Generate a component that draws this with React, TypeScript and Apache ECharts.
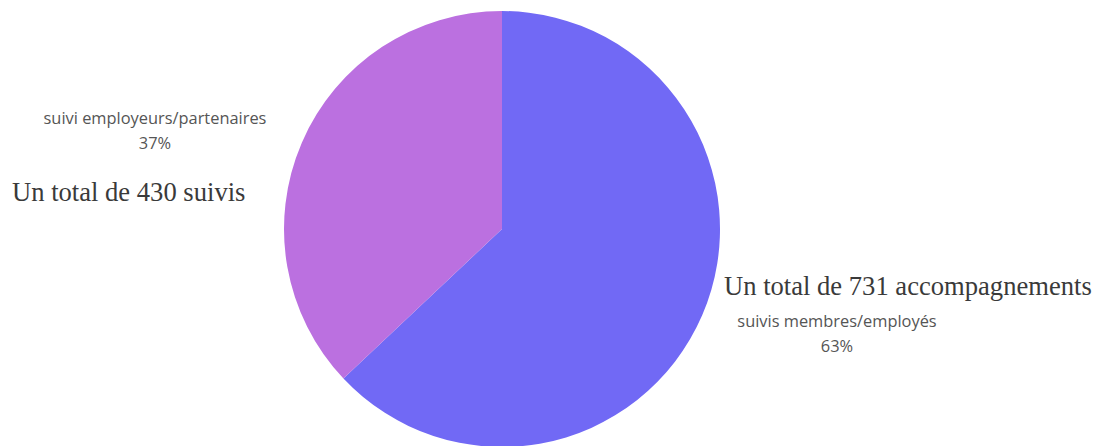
import React, { useEffect, useRef } from "react";
import * as echarts from "echarts";

const categories = ["suivis membres/employés", "suivi employeurs/partenaires"];
const values = [731, 430];
const percents = ["63%", "37%"];
const colors = ["#7169F5", "#BB70E0"];
const totals = ["Un total de 731 accompagnements", "Un total de 430 suivis"];

export default function App() {
  const ref = useRef<HTMLDivElement>(null);
  useEffect(() => {
    const chart = echarts.init(ref.current!, undefined, { renderer: "svg" });
    const labelPos = [
      { x: 837, y: 333 },
      { x: 155, y: 130 },
    ];
    chart.setOption({
      animation: false,
      graphic: [
        {
          type: "text",
          left: 4,
          top: 170,
          style: {
            text: totals[1],
            fontFamily: "Liberation Serif",
            fontSize: 26.6,
            fill: "#3a3a3a",
          },
        },
        {
          type: "text",
          left: 716,
          top: 264,
          style: {
            text: totals[0],
            fontFamily: "Liberation Serif",
            fontSize: 26.6,
            fill: "#3a3a3a",
          },
        },
      ],
      series: [
        {
          type: "pie",
          center: [494, 221],
          radius: 218,
          startAngle: 90,
          clockwise: true,
          data: categories.map((c, i) => ({
            name: c,
            value: values[i],
            itemStyle: { color: colors[i] },
          })),
          label: {
            show: true,
            formatter: (p: any) => `${p.name}\n${percents[p.dataIndex]}`,
            fontFamily: "Open Sans",
            fontSize: 16.4,
            lineHeight: 25,
            color: "#555",
            align: "center",
          },
          labelLine: { show: false },
          labelLayout: (params: any) => ({
            x: labelPos[params.dataIndex].x - 8,
            y: labelPos[params.dataIndex].y - 8,
            align: "center",
            verticalAlign: "middle",
          }),
          emphasis: { disabled: true },
        },
      ],
    });
    return () => chart.dispose();
  }, []);
  return <div ref={ref} style={{ width: 1086, height: 438 }} />;
}
